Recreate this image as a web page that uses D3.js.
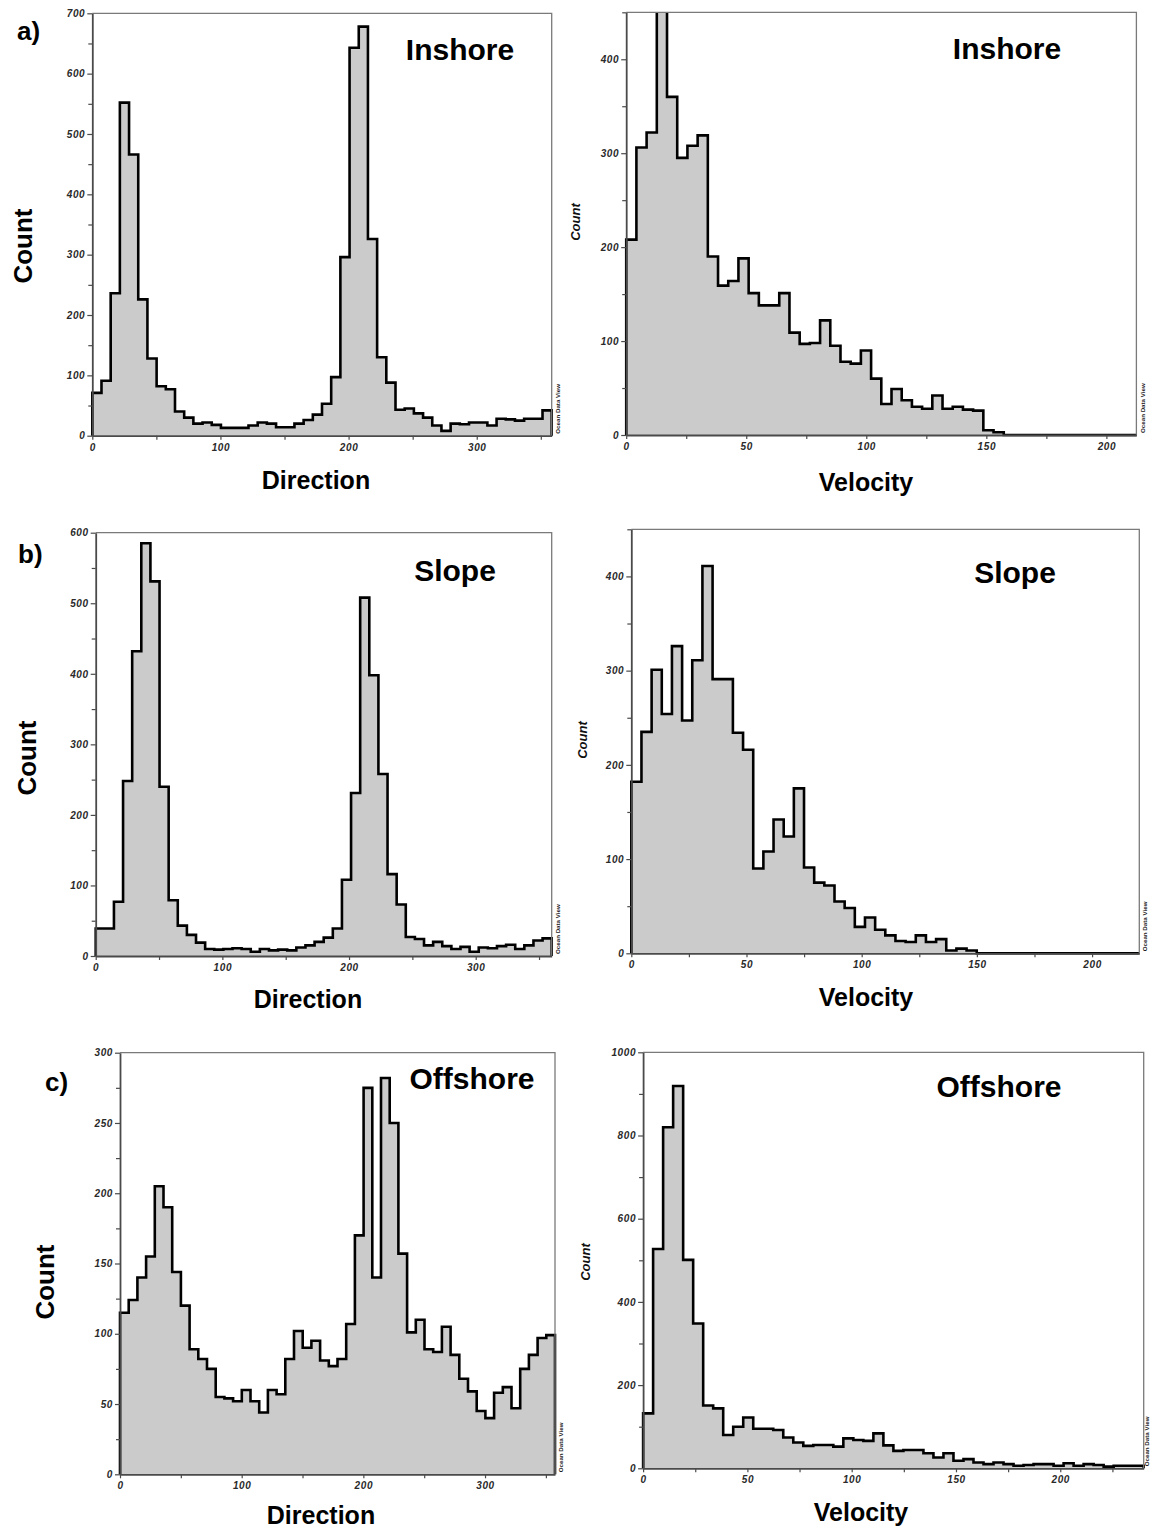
<!DOCTYPE html>
<html>
<head>
<meta charset="utf-8">
<script src="https://cdn.jsdelivr.net/npm/d3@7"></script>
<style>
  html, body { margin: 0; padding: 0; background: #fff; }
  svg { display: block; font-family: "Liberation Sans", Arial, sans-serif; }
</style>
</head>
<body>
<svg id="fig" width="1150" height="1530"></svg>
<script>
// Counts per bin (50 equal-width bins per histogram)
const inshoreDirection = [71, 91, 236, 552, 466, 226, 128, 82, 77, 40,
  30, 20, 22, 18, 13, 13, 13, 17, 22, 20,
  14, 14, 20, 26, 35, 53, 97, 296, 643, 678,
  326, 130, 88, 43, 45, 37, 30, 17, 8, 20,
  19, 22, 22, 17, 28, 27, 25, 28, 28, 42];
const inshoreVelocity = [208, 306, 322, 470, 360, 295, 308, 319, 190, 159,
  164, 188, 151, 138, 138, 151, 109, 97, 98, 122,
  95, 78, 76, 90, 60, 33, 49, 37, 30, 28,
  42, 28, 30, 27, 26, 5, 3, 0, 0, 0,
  0, 0, 0, 0, 0, 0, 0, 0, 0, 0];
const slopeDirection = [39, 39, 77, 248, 432, 585, 531, 240, 79, 43,
  30, 19, 10, 9, 10, 11, 10, 6, 10, 8,
  9, 8, 12, 15, 20, 26, 39, 108, 231, 508,
  398, 258, 116, 73, 27, 24, 15, 20, 14, 10,
  13, 6, 12, 11, 14, 16, 10, 15, 22, 25];
const slopeVelocity = [182, 235, 301, 254, 326, 247, 311, 411, 291, 291,
  234, 216, 90, 108, 142, 124, 175, 91, 75, 72,
  55, 48, 28, 38, 25, 19, 13, 12, 19, 12,
  15, 3, 5, 3, 0, 0, 0, 0, 0, 0,
  0, 0, 0, 0, 0, 0, 0, 0, 0, 0];
const offshoreDirection = [115, 124, 140, 155, 205, 190, 144, 120, 89, 82,
  75, 55, 54, 52, 60, 52, 44, 60, 57, 82,
  102, 90, 95, 81, 77, 82, 107, 170, 275, 140,
  282, 250, 157, 101, 110, 89, 87, 105, 85, 68,
  59, 45, 40, 58, 62, 47, 75, 85, 97, 99];
const offshoreVelocity = [132, 527, 820, 919, 501, 348, 151, 144, 80, 100,
  122, 95, 95, 92, 74, 62, 54, 56, 56, 52,
  72, 68, 66, 84, 55, 42, 44, 44, 36, 26,
  36, 18, 22, 14, 10, 14, 10, 6, 8, 10,
  10, 6, 12, 6, 10, 8, 4, 6, 6, 6];

// Axis ticks
const directionTicks = [0, 100, 200, 300];
const velocityTicks = [0, 50, 100, 150, 200];
const countTicks700 = [0, 100, 200, 300, 400, 500, 600, 700];
const countTicks600 = [0, 100, 200, 300, 400, 500, 600];
const countTicks400 = [0, 100, 200, 300, 400];
const countTicks300 = [0, 50, 100, 150, 200, 250, 300];
const countTicks1000 = [0, 200, 400, 600, 800, 1000];

const panels = [
  { values: inshoreDirection, binWidth: 7.17, xMax: 358.5, yMax: 700,
    xTicks: directionTicks, xMinor: 50, yTicks: countTicks700, yMinor: 50,
    box: { l: 92.3, t: 13.3, r: 551.7, b: 435.7 },
    title: "Inshore", titlePos: [460, 60], xLabel: "Direction", xLabelPos: [316, 489] },
  { values: inshoreVelocity, binWidth: 4.25, xMax: 212.5, yMax: 450,
    xTicks: velocityTicks, xMinor: 25, yTicks: countTicks400, yMinor: 50,
    box: { l: 626.2, t: 12.3, r: 1136.4, b: 435 },
    title: "Inshore", titlePos: [1007, 59], xLabel: "Velocity", xLabelPos: [866, 491],
    smallCount: [575, 222] },
  { values: slopeDirection, binWidth: 7.2, xMax: 360, yMax: 600,
    xTicks: directionTicks, xMinor: 50, yTicks: countTicks600, yMinor: 50,
    box: { l: 95.7, t: 532.7, r: 551.7, b: 956 },
    title: "Slope", titlePos: [455, 581], xLabel: "Direction", xLabelPos: [308, 1008] },
  { values: slopeVelocity, binWidth: 4.41, xMax: 220.5, yMax: 450,
    xTicks: velocityTicks, xMinor: 25, yTicks: countTicks400, yMinor: 50,
    box: { l: 631.3, t: 529.3, r: 1139.3, b: 953.3 },
    title: "Slope", titlePos: [1015, 583], xLabel: "Velocity", xLabelPos: [866, 1006],
    smallCount: [582, 740] },
  { values: offshoreDirection, binWidth: 7.15, xMax: 357.5, yMax: 300,
    xTicks: directionTicks, xMinor: 50, yTicks: countTicks300, yMinor: 25,
    box: { l: 120, t: 1052.7, r: 555, b: 1474.3 },
    title: "Offshore", titlePos: [472, 1089], xLabel: "Direction", xLabelPos: [321, 1524] },
  { values: offshoreVelocity, binWidth: 4.8, xMax: 240, yMax: 1000,
    xTicks: velocityTicks, xMinor: 25, yTicks: countTicks1000, yMinor: 100,
    box: { l: 643.1, t: 1052.3, r: 1143.7, b: 1468.3 },
    title: "Offshore", titlePos: [999, 1097], xLabel: "Velocity", xLabelPos: [861, 1521],
    smallCount: [585, 1262] }
];

// Row letters and the large left-hand "Count" labels
const rowLetters = [
  { text: "a)", pos: [17, 40] },
  { text: "b)", pos: [18, 563] },
  { text: "c)", pos: [45, 1091] }
];
const rowCountLabels = [[23, 246], [27, 758], [45, 1282]];

const svg = d3.select("#fig");
const fmt = d3.format("d");

panels.forEach((p, i) => {
  const { l, t, r, b } = p.box;
  const x = d3.scaleLinear().domain([0, p.xMax]).range([l, r]);
  const y = d3.scaleLinear().domain([0, p.yMax]).range([b, t]);
  const g = svg.append("g");

  const clipId = "clip" + i;
  svg.append("clipPath").attr("id", clipId)
    .append("rect").attr("x", l - 2).attr("y", t).attr("width", r - l + 4).attr("height", b - t + 3);

  // step outline points from the bin edges
  const pts = [[0, 0]];
  p.values.forEach((v, k) => {
    pts.push([k * p.binWidth, v], [(k + 1) * p.binWidth, v]);
  });
  pts.push([p.values.length * p.binWidth, 0]);

  const plot = g.append("g").attr("clip-path", `url(#${clipId})`);
  plot.append("path")
    .attr("d", d3.area().x(d => x(d[0])).y0(y(0)).y1(d => y(d[1]))(pts))
    .attr("fill", "#cbcbcb");

  // frame: top and right edges
  g.append("path")
    .attr("d", `M${l},${t}H${r}V${b}`)
    .attr("fill", "none").attr("stroke", "#7a7a7a").attr("stroke-width", 1.3);

  plot.append("path")
    .attr("d", d3.line().x(d => x(d[0])).y(d => y(d[1]))(pts))
    .attr("fill", "none").attr("stroke", "#000").attr("stroke-width", 2.6)
    .attr("stroke-linejoin", "miter");

  // minor ticks
  const xMinorVals = d3.range(0, p.xMax + 1e-6, p.xMinor).filter(v => !p.xTicks.includes(v));
  const yMinorVals = d3.range(0, p.yMax + 1e-6, p.yMinor).filter(v => !p.yTicks.includes(v));

  const xMinorAxis = g.append("g").attr("transform", `translate(0,${b})`)
    .call(d3.axisBottom(x).tickValues(xMinorVals).tickSize(4).tickSizeOuter(0).tickFormat(""));
  xMinorAxis.select(".domain").remove();
  const yMinorAxis = g.append("g").attr("transform", `translate(${l},0)`)
    .call(d3.axisLeft(y).tickValues(yMinorVals).tickSize(4).tickSizeOuter(0).tickFormat(""));
  yMinorAxis.select(".domain").remove();

  // major axes
  const xAxis = g.append("g").attr("transform", `translate(0,${b})`)
    .call(d3.axisBottom(x).tickValues(p.xTicks).tickSize(4).tickSizeOuter(0).tickPadding(4).tickFormat(fmt));
  const yAxis = g.append("g").attr("transform", `translate(${l},0)`)
    .call(d3.axisLeft(y).tickValues(p.yTicks).tickSize(5).tickSizeOuter(0).tickPadding(2).tickFormat(fmt));

  [xAxis, yAxis, xMinorAxis, yMinorAxis].forEach(a => {
    a.selectAll(".domain").attr("stroke", "#4a4a4a").attr("stroke-width", 1.8);
    a.selectAll(".tick line").attr("stroke", "#4a4a4a").attr("stroke-width", 1.2);
    a.selectAll(".tick text")
      .attr("font-family", "'Liberation Sans', Arial, sans-serif")
      .attr("font-size", 10).attr("font-weight", "bold").attr("font-style", "italic")
      .attr("letter-spacing", 0.6).attr("fill", "#2a2a2a");
  });

  // panel title
  g.append("text").attr("x", p.titlePos[0]).attr("y", p.titlePos[1])
    .attr("text-anchor", "middle").attr("font-size", 30).attr("font-weight", "bold")
    .attr("fill", "#000").text(p.title);

  // x-axis title
  g.append("text").attr("x", p.xLabelPos[0]).attr("y", p.xLabelPos[1])
    .attr("text-anchor", "middle").attr("font-size", 25).attr("font-weight", "bold")
    .attr("fill", "#000").text(p.xLabel);

  // small y-axis title on the velocity panels
  if (p.smallCount) {
    g.append("text")
      .attr("transform", `translate(${p.smallCount[0]},${p.smallCount[1]}) rotate(-90)`)
      .attr("text-anchor", "middle").attr("dy", "0.35em")
      .attr("font-size", 13).attr("font-weight", "bold").attr("font-style", "italic")
      .attr("fill", "#111").text("Count");
  }

  // software credit along the right edge
  g.append("text")
    .attr("transform", `translate(${Math.min(r + 6, 1146.5)},${b - 2}) rotate(-90)`)
    .attr("text-anchor", "start").attr("dy", "0.35em")
    .attr("font-size", 6.2).attr("font-weight", "bold").attr("fill", "#222")
    .text("Ocean Data View");
});

rowLetters.forEach(d => {
  svg.append("text").attr("x", d.pos[0]).attr("y", d.pos[1])
    .attr("font-size", 26).attr("font-weight", "bold").attr("fill", "#000").text(d.text);
});

rowCountLabels.forEach(pos => {
  svg.append("text")
    .attr("transform", `translate(${pos[0]},${pos[1]}) rotate(-90)`)
    .attr("text-anchor", "middle").attr("dy", "0.35em")
    .attr("font-size", 26).attr("font-weight", "bold").attr("fill", "#000").text("Count");
});
</script>
</body>
</html>
